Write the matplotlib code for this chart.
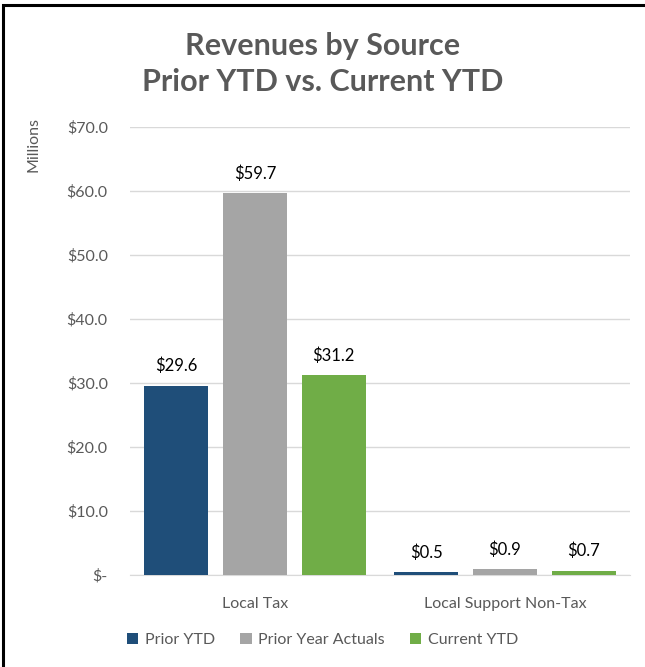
# Revenues by Source - Prior YTD vs. Current YTD
# Grouped bar chart with value labels above each bar
import numpy as np
import matplotlib.pyplot as plt
from matplotlib.patches import Rectangle

plt.rcParams['font.family'] = ['Lato', 'DejaVu Sans']

# Data (millions)
categories = ['Local Tax', 'Local Support Non-Tax']
series_names = ['Prior YTD', 'Prior Year Actuals', 'Current YTD']
prior_ytd = [29.6, 0.5]
prior_year_actuals = [59.7, 0.9]
current_ytd = [31.2, 0.7]
y_ticks = [0, 10, 20, 30, 40, 50, 60, 70]
y_tick_labels = ['$-', '$10.0', '$20.0', '$30.0', '$40.0', '$50.0', '$60.0', '$70.0']

# Colours
blue = '#1F4E79'
grey = '#A5A5A5'
green = '#70AD47'
text_grey = '#595959'

fig = plt.figure(figsize=(6.45, 6.67), dpi=100)
ax = fig.add_axes([0.2016, 0.1379, 0.7751, 0.6717])

x = np.arange(len(categories))
width = 0.255
step = 0.315

all_series = [prior_ytd, prior_year_actuals, current_ytd]
colors = [blue, grey, green]
for i, (vals, col, name) in enumerate(zip(all_series, colors, series_names)):
    bars = ax.bar(x + (i - 1) * step, vals, width, color=col, label=name, zorder=3)
    for b, v in zip(bars, vals):
        ax.annotate(f'${v:.1f}', (b.get_x() + b.get_width() / 2, v),
                    xytext=(0, 8), textcoords='offset points',
                    ha='center', va='bottom', fontsize=12, color='black')

ax.set_xlim(-0.5, 1.5)
ax.set_ylim(0, 70)
ax.set_yticks(y_ticks)
ax.set_yticklabels(y_tick_labels)
ax.set_xticks(x)
ax.set_xticklabels(categories)

ax.grid(axis='y', color='#D9D9D9', linewidth=1, zorder=0)
for s in ['top', 'right', 'left']:
    ax.spines[s].set_visible(False)
ax.spines['bottom'].set_color('#D9D9D9')
ax.tick_params(axis='both', length=0, labelsize=11.5, colors=text_grey)
ax.tick_params(axis='y', pad=16)
ax.tick_params(axis='x', pad=16)

ax.set_ylabel('Millions', color=text_grey, fontsize=11.5)
ax.yaxis.set_label_coords(-0.18, 0.962)

fig.suptitle('Revenues by Source\nPrior YTD vs. Current YTD', x=0.5, y=0.952,
             fontsize=22, fontweight='bold', color=text_grey, linespacing=1.35)

fig.legend(loc='center', bbox_to_anchor=(0.5, 0.040), ncol=3, frameon=False,
           fontsize=11.5, labelcolor=text_grey, handlelength=0.7, handleheight=0.7,
           handletextpad=0.4, columnspacing=1.6)

# Black border around the chart
fig.patches.append(Rectangle((0.005, -0.05), 1.2, 1.043, transform=fig.transFigure,
                             fill=False, edgecolor='black', linewidth=2.2))

plt.savefig('out.png', dpi=100)
